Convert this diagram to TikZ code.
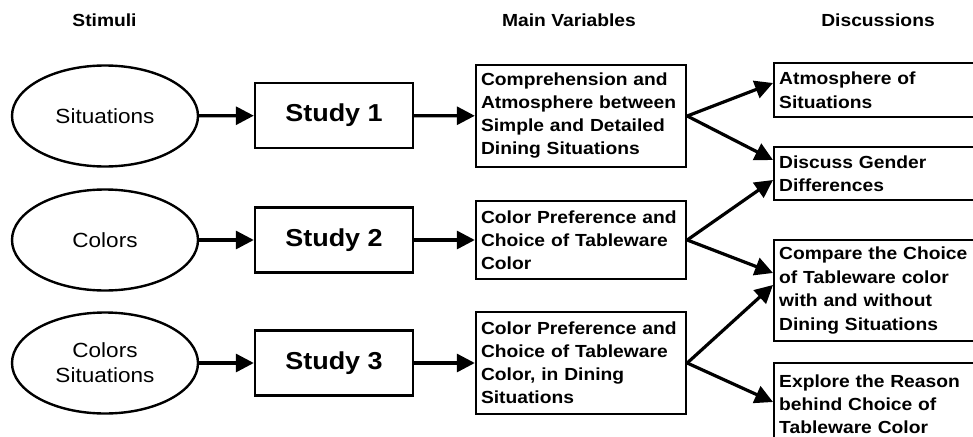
\documentclass[tikz,border=0pt]{standalone}
\usepackage{fontspec}
\setmainfont{Liberation Sans}[FakeStretch=1.1]
\usetikzlibrary{arrows.meta,shapes.geometric}

\begin{document}
\begin{tikzpicture}[x=1pt,y=-1pt,
  heading/.style={font=\bfseries\fontsize{17.5}{21}\selectfont},
  stim/.style={draw,line width=2.4pt,ellipse,minimum width=186pt,minimum height=101pt,
    inner sep=0pt,align=center,font=\fontsize{20.5}{25}\selectfont},
  studybox/.style={draw,line width=2.4pt,minimum width=158pt,minimum height=65pt,
    inner sep=0pt,font=\bfseries\fontsize{24.5}{28}\selectfont},
  varbox/.style={draw,line width=2.4pt,text width=200pt,inner xsep=5pt,inner ysep=0pt,
    align=left,font=\bfseries\fontsize{17.5}{23}\selectfont},
  discbox/.style={draw,line width=2.4pt,anchor=north west,text width=220pt,inner xsep=5pt,
    inner ysep=0pt,align=left,font=\bfseries\fontsize{17.5}{23.5}\selectfont},
  flow/.style={line width=3.2pt,-{Triangle[length=18pt,width=18pt]}}
]
\useasboundingbox (0,0) rectangle (973,436);
\clip (0,0) rectangle (973,436);

% column headings
\node[heading] (h1) at (104.5,20) {Stimuli};
\node[heading] (h2) at (569,20) {Main Variables};
\node[heading] (h3) at (878,20) {Discussions};

% stimuli
\node[stim] (s1) at (105,116) {Situations};
\node[stim] (s2) at (105,240) {Colors};
\node[stim] (s3) at (105,363) {Colors\\Situations};

% studies
\node[studybox] (t1) at (334,115.5) {Study 1};
\node[studybox] (t2) at (334,240) {Study 2};
\node[studybox] (t3) at (334,363) {Study 3};

% main variables
\node[varbox,minimum height=102pt] (v1) at (581,116)
  {Comprehension and\\Atmosphere between\\Simple and Detailed\\Dining Situations};
\node[varbox,minimum height=78pt] (v2) at (581,240)
  {Color Preference and\\Choice of Tableware\\Color};
\node[varbox,minimum height=102pt] (v3) at (581,363)
  {Color Preference and\\Choice of Tableware\\Color, in Dining\\Situations};

% discussions
\node[discbox,minimum height=54pt] (d1) at (773,62) {Atmosphere of\\Situations};
\node[discbox,minimum height=53pt] (d2) at (773,146) {Discuss Gender\\Differences};
\node[discbox,minimum height=101pt] (d3) at (773,239)
  {Compare the Choice\\of Tableware color\\with and without\\Dining Situations};
\node[discbox,minimum height=82pt,font=\bfseries\fontsize{17.5}{23}\selectfont] (d4) at (773,362)
  {Explore the Reason\\behind Choice of\\Tableware Color};

% connectors
\foreach \i in {1,2,3} {
  \draw[flow] (s\i) -- (t\i);
  \draw[flow] (t\i) -- (v\i);
}
\draw[flow] (v1.east) -- (d1.west |- {(0,83)});
\draw[flow] (v1.east) -- (d2.west |- {(0,160)});
\draw[flow] (v2.east) -- (d2.west |- {(0,180)});
\draw[flow] (v2.east) -- (d3.west |- {(0,273)});
\draw[flow] (v3.east) -- (d3.west |- {(0,285)});
\draw[flow] (v3.east) -- (d4.west |- {(0,402)});
\end{tikzpicture}
\end{document}
